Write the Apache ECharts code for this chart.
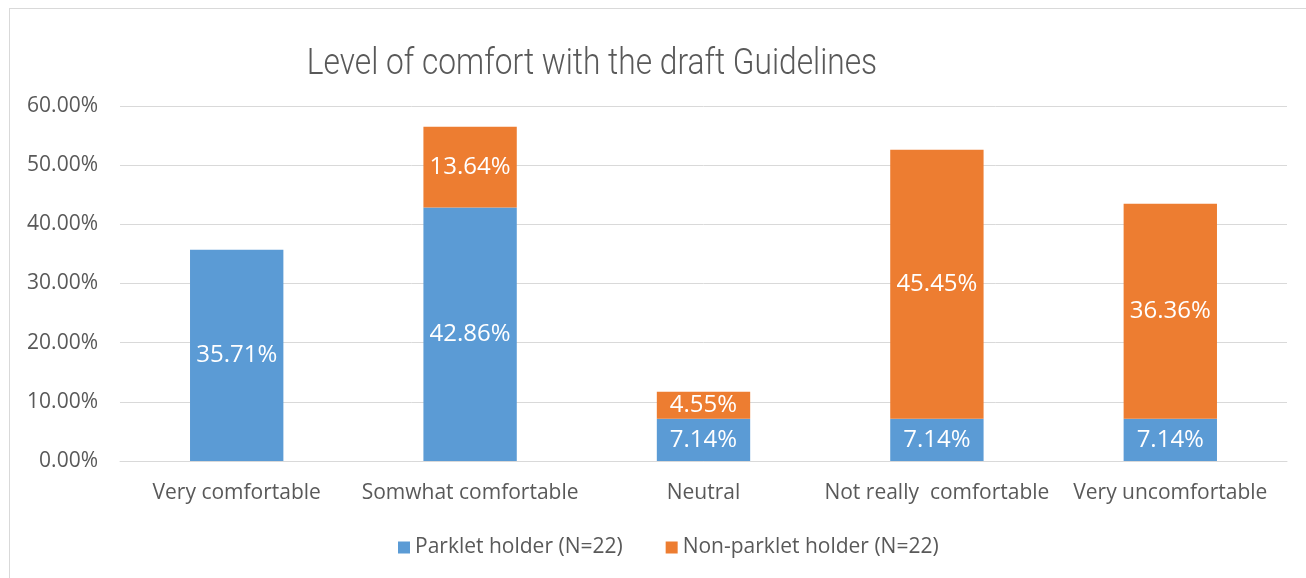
<!DOCTYPE html>
<html>
<head>
<meta charset="utf-8">
<script src="https://cdn.jsdelivr.net/npm/echarts@6/dist/echarts.min.js"></script>
<style>
  html, body { margin: 0; padding: 0; background: #fff; overflow: hidden; }
  #frame {
    position: absolute; left: 9px; top: 8px;
    width: 1320px; height: 600px;
    border: 1px solid #d9d9d9;
  }
  #chart { position: absolute; left: 0; top: 0; width: 1306px; height: 578px; }
</style>
</head>
<body>
<div id="frame"></div>
<div id="chart"></div>
<script>
// categories and values (percent)
const categories = ['Very comfortable', 'Somwhat comfortable', 'Neutral', 'Not really  comfortable', 'Very uncomfortable'];
const parkletHolder = [35.71, 42.86, 7.14, 7.14, 7.14];
const nonParkletHolder = [0, 13.64, 4.55, 45.45, 36.36];
const yTicks = [0, 10, 20, 30, 40, 50, 60];

const font = '"Open Sans", sans-serif';
let chart = echarts.init(document.getElementById('chart'));

let option = {
  animation: false,
  // title drawn as graphic text so it can be narrowed like the condensed original
  graphic: [{
    type: 'text',
    x: 592,
    y: 65,
    scaleX: 0.88,
    style: {
      text: 'Level of comfort with the draft Guidelines',
      font: '300 36px Roboto, sans-serif',
      fill: '#595959',
      textAlign: 'center',
      textVerticalAlign: 'middle'
    }
  }],
  legend: {
    left: 393,
    top: 532,
    itemWidth: 12,
    itemHeight: 12,
    itemGap: 43,
    icon: 'rect',
    textStyle: { fontFamily: font, fontSize: 21, color: '#595959' },
    data: ['Parklet holder (N=22)', 'Non-parklet holder (N=22)']
  },
  grid: { left: 120, right: 19, top: 106, bottom: 117 },
  xAxis: {
    type: 'category',
    data: categories,
    axisLine: { lineStyle: { color: '#d9d9d9' } },
    axisTick: { show: false },
    axisLabel: { fontFamily: font, fontSize: 21, color: '#595959', margin: 22, interval: 0 }
  },
  yAxis: {
    type: 'value',
    min: yTicks[0],
    max: yTicks[yTicks.length - 1],
    interval: 10,
    axisLine: { show: false },
    axisTick: { show: false },
    splitLine: { lineStyle: { color: '#d9d9d9', width: 1 } },
    axisLabel: {
      fontFamily: font, fontSize: 21, color: '#595959', margin: 22,
      formatter: v => v.toFixed(2) + '%'
    }
  },
  series: [{
    name: 'Parklet holder (N=22)',
    type: 'bar',
    stack: 'total',
    barWidth: '40%',
    itemStyle: { color: '#5b9bd5' },
    label: {
      show: true,
      position: 'inside',
      color: '#fff',
      fontFamily: font,
      fontSize: 24,
      formatter: p => p.value.toFixed(2) + '%'
    },
    data: parkletHolder
  }, {
    name: 'Non-parklet holder (N=22)',
    type: 'bar',
    stack: 'total',
    itemStyle: { color: '#ed7d31' },
    label: {
      show: true,
      position: 'inside',
      color: '#fff',
      fontFamily: font,
      fontSize: 24,
      formatter: p => p.value > 0 ? p.value.toFixed(2) + '%' : ''
    },
    data: nonParkletHolder
  }]
};

chart.setOption(option);
</script>
</body>
</html>
